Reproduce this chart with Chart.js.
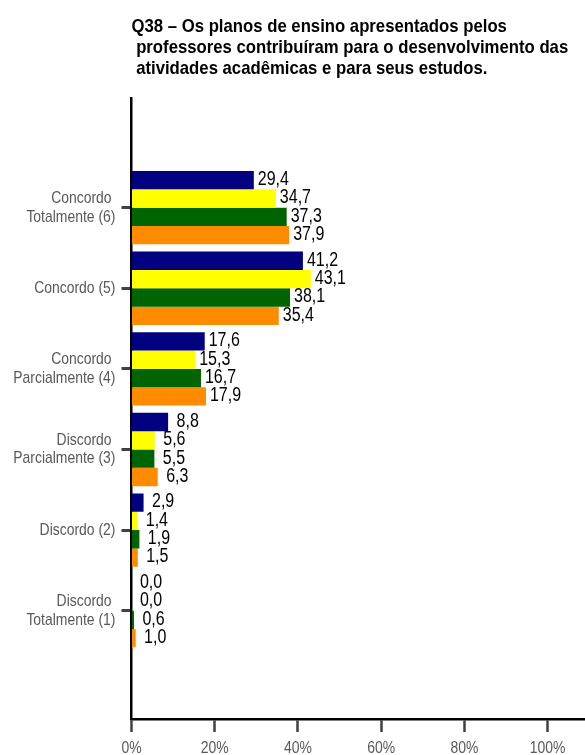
<!DOCTYPE html>
<html>
<head>
<meta charset="utf-8">
<script src="https://cdn.jsdelivr.net/npm/chart.js@4/dist/chart.umd.min.js"></script>
<style>
  html, body { margin: 0; padding: 0; background: #ffffff; }
  #wrap { width: 585px; height: 755px; }
</style>
</head>
<body>
<div id="wrap"><canvas id="c" width="585" height="755"></canvas></div>
<script>
// ---- data ----
const titleLines = [
  "Q38 – Os planos de ensino apresentados pelos",
  " professores contribuíram para o desenvolvimento das",
  " atividades acadêmicas e para seus estudos."
];
const levels = [6, 5, 4, 3, 2, 1];
const categories = [
  ["Concordo ", "Totalmente (6)"],
  "Concordo (5)",
  ["Concordo ", "Parcialmente (4)"],
  ["Discordo ", "Parcialmente (3)"],
  "Discordo (2)",
  ["Discordo ", "Totalmente (1)"]
];
const seriesNames = ["Série 1", "Série 2", "Série 3", "Série 4"];
const serie1 = [29.4, 41.2, 17.6, 8.8, 2.9, 0.0];
const serie2 = [34.7, 43.1, 15.3, 5.6, 1.4, 0.0];
const serie3 = [37.3, 38.1, 16.7, 5.5, 1.9, 0.6];
const serie4 = [37.9, 35.4, 17.9, 6.3, 1.5, 1.0];
const xTicks = [0, 20, 40, 60, 80, 100];
const colors = ["#000080", "#FFFF00", "#006400", "#FF8C00"];

const FONT = "'Liberation Sans', Arial, sans-serif";
const NARROW_SCALE = 0.82;
const TITLE_SCALE = 0.88;

const allSeries = [serie1, serie2, serie3, serie4];
const datasets = allSeries.map((s, k) => ({
  label: seriesNames[k],
  data: s.map((v, i) => ({ x: v, y: levels[i] })),
  backgroundColor: colors[k],
  borderWidth: 0,
  categoryPercentage: 0.91,
  barPercentage: 1.0
}));

// draw horizontally condensed text (Arial Narrow look)
function narrowText(ctx, text, x, y, align, sx) {
  ctx.save();
  ctx.translate(x, y);
  ctx.scale(sx || NARROW_SCALE, 1);
  ctx.textAlign = align;
  ctx.fillText(text, 0, 0);
  ctx.restore();
}

const textPlugin = {
  id: 'texts',
  afterDraw(chart) {
    const ctx = chart.ctx;
    const xs = chart.scales.x, ys = chart.scales.y;
    ctx.save();
    // title
    ctx.font = "bold 19px " + FONT;
    ctx.fillStyle = "#000000";
    ctx.textBaseline = "alphabetic";
    const base = [31.5, 52.5, 73.7];
    titleLines.forEach((t, i) => narrowText(ctx, t, chart.chartArea.left, base[i], 'left', TITLE_SCALE));
    // y category labels
    ctx.font = "17px " + FONT;
    ctx.fillStyle = "#595959";
    ctx.textBaseline = "middle";
    const lh = 18.4;
    levels.forEach((l, i) => {
      const y = ys.getPixelForValue(l);
      const lines = Array.isArray(categories[i]) ? categories[i] : [categories[i]];
      const y0 = y - (lines.length - 1) * lh / 2;
      lines.forEach((t, j) => narrowText(ctx, t, chart.chartArea.left - 16, y0 + j * lh, 'right'));
    });
    // x tick labels
    xTicks.forEach(v => {
      narrowText(ctx, v + '%', xs.getPixelForValue(v), 748.5, 'center');
    });
    ctx.restore();
  },
  afterDatasetsDraw(chart) {
    const ctx = chart.ctx;
    ctx.save();
    ctx.font = "19.5px " + FONT;
    ctx.fillStyle = "#000000";
    ctx.textBaseline = "middle";
    chart.data.datasets.forEach((ds, k) => {
      const meta = chart.getDatasetMeta(k);
      meta.data.forEach((bar, i) => {
        const v = allSeries[k][i];
        const txt = (v < 10 ? " " : "") + v.toFixed(1).replace(".", ",");
        narrowText(ctx, txt, bar.x + 4, bar.y - 0.5, 'left');
      });
    });
    ctx.restore();
  }
};

new Chart(document.getElementById('c'), {
  type: 'bar',
  data: { datasets },
  options: {
    indexAxis: 'y',
    responsive: false,
    animation: false,
    devicePixelRatio: 1,
    layout: { padding: { top: 98, left: 0, right: 0, bottom: 0 } },
    plugins: {
      legend: { display: false },
      title: { display: false },
      tooltip: { enabled: false }
    },
    scales: {
      x: {
        type: 'linear',
        position: 'bottom',
        min: 0,
        max: 109,
        offset: false,
        afterBuildTicks(scale) { scale.ticks = xTicks.map(v => ({ value: v })); },
        afterFit(scale) { scale.height = 36; },
        ticks: { display: false },
        grid: {
          offset: false,
          drawOnChartArea: false,
          drawTicks: true,
          tickLength: 13,
          tickWidth: 2.5,
          tickColor: '#404040'
        },
        border: { display: true, color: '#000000', width: 2.5 }
      },
      y: {
        type: 'linear',
        position: 'left',
        min: -0.344,
        max: 7.361,
        offset: false,
        afterBuildTicks(scale) { scale.ticks = levels.map(v => ({ value: v })); },
        afterFit(scale) { scale.width = 131.5; },
        ticks: { display: false },
        grid: {
          offset: false,
          drawOnChartArea: false,
          drawTicks: true,
          tickLength: 10,
          tickWidth: 3,
          tickColor: '#404040'
        },
        border: { display: true, color: '#000000', width: 2.5 }
      }
    }
  },
  plugins: [textPlugin]
});
</script>
</body>
</html>
